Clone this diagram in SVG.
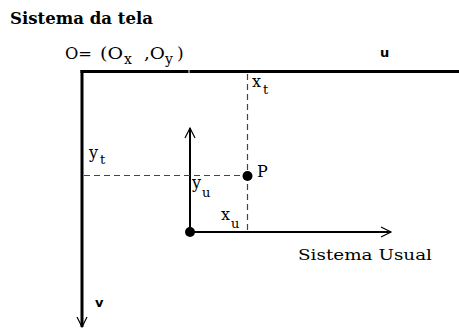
<svg xmlns="http://www.w3.org/2000/svg" width="459" height="331" viewBox="0 0 459 331">
<style>
.t{font-family:'DejaVu Serif','Liberation Serif',serif;fill:#000}
.s{font-family:'DejaVu Sans','Liberation Sans',sans-serif;font-weight:bold;fill:#000}
.axis{stroke:#000;fill:none}
.dash{stroke:#444;stroke-width:1.2;stroke-dasharray:6 4;fill:none}
</style>
<defs>
<marker id="open" markerUnits="userSpaceOnUse" markerWidth="14" markerHeight="14" viewBox="-12 -7 14 14" refX="0" refY="0" orient="auto">
<path d="M-10,-5 L0,0 L-10,5" fill="none" stroke="#000" stroke-width="1.2"/>
</marker>
</defs>
<text class="t" x="10" y="24" font-size="16" font-weight="bold" textLength="143" lengthAdjust="spacingAndGlyphs">Sistema da tela</text>
<g id="screen-axes">
<text class="t" x="65" y="59" font-size="17" textLength="27" lengthAdjust="spacingAndGlyphs">O=</text>
<text class="t" x="100" y="59" font-size="17" textLength="23" lengthAdjust="spacingAndGlyphs">(O</text>
<text class="t" x="124" y="64" font-size="14">x</text>
<text class="t" x="144" y="59" font-size="17" textLength="21" lengthAdjust="spacingAndGlyphs">,O</text>
<text class="t" x="165" y="64" font-size="14">y</text>
<text class="t" x="177" y="59" font-size="17">)</text>
<text class="s" x="380" y="57" font-size="13">u</text>
<text class="s" x="95" y="307" font-size="13">v</text>
</g>
<g id="connectors">
<line class="axis" x1="80.5" y1="71.5" x2="459" y2="71.5" stroke-width="3"/>
<line x1="189" y1="69" x2="189" y2="74" stroke="#fff" stroke-width="1"/>
<line class="axis" x1="82" y1="70" x2="82" y2="327" stroke-width="3" marker-end="url(#open)"/>
<line class="axis" x1="190" y1="232" x2="190" y2="128" stroke-width="2" marker-end="url(#open)"/>
<line class="axis" x1="190" y1="232" x2="391" y2="232" stroke-width="2" marker-end="url(#open)"/>
<line class="dash" x1="247.5" y1="74" x2="247.5" y2="231"/>
<line class="dash" x1="84" y1="175.5" x2="247" y2="175.5"/>
</g>
<g id="origin-usual">
<circle cx="190" cy="232" r="5" fill="#000"/>
</g>
<g id="point-P">
<circle cx="247.5" cy="176" r="5" fill="#000"/>
<text class="t" x="257" y="177" font-size="16">P</text>
</g>
<g id="labels">
<text class="t" x="252" y="87" font-size="16">x</text>
<text class="t" x="263" y="94" font-size="13">t</text>
<text class="t" x="89" y="158" font-size="16">y</text>
<text class="t" x="100" y="164" font-size="13">t</text>
<text class="t" x="192" y="188" font-size="16">y</text>
<text class="t" x="202" y="197" font-size="13">u</text>
<text class="t" x="221" y="220" font-size="16">x</text>
<text class="t" x="231" y="228" font-size="13">u</text>
</g>
<text class="t" x="298" y="260" font-size="15" textLength="134" lengthAdjust="spacingAndGlyphs">Sistema Usual</text>
</svg>
